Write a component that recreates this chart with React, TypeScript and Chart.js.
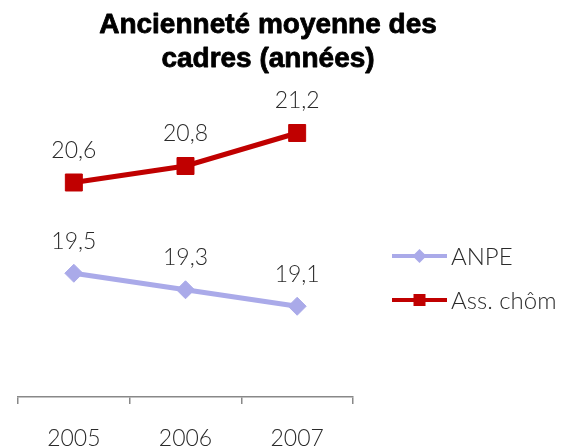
import React, { useEffect, useRef } from "react";
import { Chart, registerables } from "chart.js";

Chart.register(...registerables);

const categories = ["2005", "2006", "2007"];
const anpeValues = [19.5, 19.3, 19.1];
const assChomValues = [20.6, 20.8, 21.2];
const seriesNames = ["ANPE", "Ass. chôm"];
const titleLines = ["Ancienneté moyenne des", "cadres (années)"];

const ANPE_COLOR = "#AAAAE9";
const ASS_COLOR = "#C00000";
const LABEL_FONT = "300 23px Lato";

const fmt = (v: number) => v.toFixed(1).replace(".", ",");

const overlayPlugin = {
  id: "overlay",
  afterDatasetsDraw(chart: any) {
    const ctx = chart.ctx;
    ctx.save();
    // title
    ctx.fillStyle = "#000";
    ctx.strokeStyle = "#000";
    ctx.lineWidth = 0.8;
    ctx.lineJoin = "round";
    ctx.font = "bold 28px 'Liberation Sans'";
    ctx.textAlign = "center";
    ctx.textBaseline = "middle";
    ctx.fillText(titleLines[0], 268, 25);
    ctx.strokeText(titleLines[0], 268, 25);
    ctx.fillText(titleLines[1], 268, 59);
    ctx.strokeText(titleLines[1], 268, 59);

    // data labels
    ctx.font = LABEL_FONT;
    ctx.fillStyle = "#2a2a2a";
    chart.data.datasets.forEach((ds: any, i: number) => {
      const meta = chart.getDatasetMeta(i);
      meta.data.forEach((pt: any, j: number) => {
        ctx.fillText(fmt(ds.data[j]), pt.x, pt.y - 32);
      });
    });

    // legend
    const items = [
      { name: seriesNames[0], color: ANPE_COLOR, y: 256, shape: "diamond" },
      { name: seriesNames[1], color: ASS_COLOR, y: 300, shape: "square" },
    ];
    ctx.font = "300 24px Lato";
    items.forEach((it) => {
      ctx.strokeStyle = it.color;
      ctx.lineWidth = 4;
      ctx.beginPath();
      ctx.moveTo(392, it.y);
      ctx.lineTo(447, it.y);
      ctx.stroke();
      ctx.fillStyle = it.color;
      const cx = 419.5;
      if (it.shape === "diamond") {
        ctx.beginPath();
        ctx.moveTo(cx - 7, it.y);
        ctx.lineTo(cx, it.y - 7);
        ctx.lineTo(cx + 7, it.y);
        ctx.lineTo(cx, it.y + 7);
        ctx.closePath();
        ctx.fill();
      } else {
        ctx.fillRect(cx - 6, it.y - 6, 12, 12);
      }
      ctx.fillStyle = "#2a2a2a";
      ctx.textAlign = "left";
      ctx.fillText(it.name, 451, it.y + 1);
    });
    ctx.restore();
  },
};

export default function App() {
  const ref = useRef<HTMLCanvasElement>(null);
  useEffect(() => {
    if (!ref.current) return;
    const chart = new Chart(ref.current, {
      type: "line",
      data: {
        labels: categories,
        datasets: [
          {
            label: seriesNames[0],
            data: anpeValues,
            borderColor: ANPE_COLOR,
            backgroundColor: ANPE_COLOR,
            borderWidth: 5,
            pointStyle: "rectRot",
            pointRadius: 9,
            pointBorderWidth: 1,
            tension: 0,
          },
          {
            label: seriesNames[1],
            data: assChomValues,
            borderColor: ASS_COLOR,
            backgroundColor: ASS_COLOR,
            borderWidth: 5,
            pointStyle: "rect",
            pointRadius: 12,
            pointBorderWidth: 1,
            tension: 0,
          },
        ],
      },
      options: {
        animation: false,
        responsive: false,
        maintainAspectRatio: false,
        layout: { padding: { left: 18, right: 209, top: 67, bottom: 0 } },
        plugins: {
          legend: { display: false },
          title: { display: false },
          tooltip: { enabled: false },
        },
        scales: {
          x: {
            offset: true,
            border: { display: true, color: "#888", width: 1.5 },
            grid: {
              offset: true,
              drawOnChartArea: false,
              drawTicks: true,
              tickLength: 7,
              color: "#888",
              lineWidth: 1.5,
            },
            ticks: {
              color: "#2a2a2a",
              font: { family: "Lato", size: 23, weight: "300" },
              padding: 21,
            },
            afterFit: (scale: any) => {
              scale.height = 49;
            },
          },
          y: {
            display: false,
            min: 18,
            max: 22,
          },
        },
      },
      plugins: [overlayPlugin],
    });
    return () => chart.destroy();
  }, []);
  return (
    <div style={{ position: "fixed", left: 0, top: 0, width: 562, height: 446, background: "#fff" }}>
      <canvas ref={ref} width={562} height={446} style={{ display: "block" }} />
    </div>
  );
}
